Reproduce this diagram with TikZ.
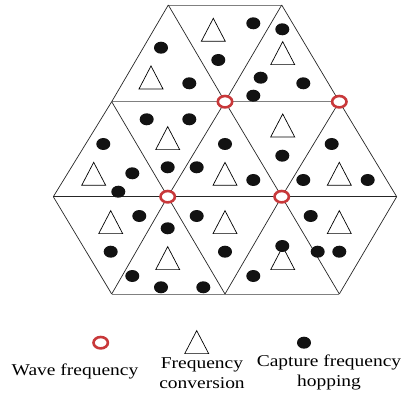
\documentclass[tikz,border=0pt]{standalone}
\usepackage{fontspec}
\setmainfont{Liberation Serif}[FakeStretch=1.18]
\usetikzlibrary{shapes.geometric}
\definecolor{ringred}{HTML}{C8383A}
\definecolor{linegray}{HTML}{808080}

\begin{document}
\begin{tikzpicture}[x=1pt,y=-1pt,
  grid/.style={draw=black!85,line width=0.7pt},
  gridh/.style={draw=linegray,line width=0.9pt},
  ring/.style={ellipse,draw=ringred,line width=2.6pt,fill=white,inner sep=0pt,minimum width=14.4pt,minimum height=11.4pt},
  dot/.style={ellipse,fill=black!93,inner sep=0pt,minimum width=14pt,minimum height=12pt},
  tri/.style={isosceles triangle,isosceles triangle stretches,shape border rotate=90,draw=black,line width=0.7pt,fill=white,inner sep=0pt,minimum width=24pt,minimum height=23pt,anchor=south},
  lbl/.style={font=\fontsize{16.5}{20}\selectfont,align=center}
]
\useasboundingbox (0,0) rectangle (405,396);

% lattice corners
\coordinate (a0) at (168.3,5);   \coordinate (a1) at (281.7,5);
\coordinate (b0) at (111.7,101.7); \coordinate (b1) at (225,101.7); \coordinate (b2) at (339.3,101.7);
\coordinate (c0) at (53.3,196.7); \coordinate (c1) at (167.7,196.7); \coordinate (c2) at (281.7,196.7); \coordinate (c3) at (396.7,196.7);
\coordinate (d0) at (111.7,294); \coordinate (d1) at (225,294); \coordinate (d2) at (339.3,294);

\draw[gridh] (a0) -- (a1);
\draw[gridh] (b0) -- (b2);
\draw[grid] (c0) -- (c3);
\draw[gridh] (d0) -- (d2);
\foreach \u/\v in {a0/b0,a0/b1,a1/b1,a1/b2,b0/c0,b0/c1,b1/c1,b1/c2,b2/c2,b2/c3,c0/d0,c1/d0,c1/d1,c2/d1,c2/d2,c3/d2}
  \draw[grid] (\u) -- (\v);

% frequency conversion
\foreach \x/\y [count=\i] in {213.3/41.7,282.7/65,151/89.3,167.7/150,282.7/137.3,93.7/185.7,225/185.7,339.3/185.7,
  110.7/234,225/234,339.3/234,167.7/270,282.7/270}
  \node[tri] (t\i) at (\x,\y) {};

% capture frequency hopping
\foreach \x/\y [count=\i] in {253.3/23.3,282.3/29.3,161/47.7,218.3/60,189.3/83.3,260.7/77.7,303.3/83.3,253.3/95.7,
  146.7/119.3,189.3/119.3,103.3/144,225/144,331.7/144,282.3/155.7,132.3/173.3,167.7/167.3,196.7/167.3,
  253.3/180,303.3/180,367.7/180,118.3/191.7,139.3/216,196.7/216,310.7/216,167.7/228.3,110.7/251.7,
  225/251.7,282.3/246,317.7/251.7,339.3/251.7,132.3/276,253.3/276,161/287.3,203.3/287.3}
  \node[dot] (p\i) at (\x,\y) {};

% wave frequency
\node[ring] (w1) at (b1) {};
\node[ring] (w2) at (b2) {};
\node[ring] (w3) at (c1) {};
\node[ring] (w4) at (c2) {};

% legend
\node[ring] (lwave) at (100.7,342.7) {};
\node[tri] (lconv) at (196.7,354) {};
\node[dot] (lhop) at (304,342.7) {};
\node[lbl] (twave) at (75,371.7) {Wave frequency};
\node[lbl] (tconv) at (202,372.7) {Frequency\\conversion};
\node[lbl] (thop) at (329,372.7) {Capture frequency\\hopping};
\end{tikzpicture}
\end{document}
